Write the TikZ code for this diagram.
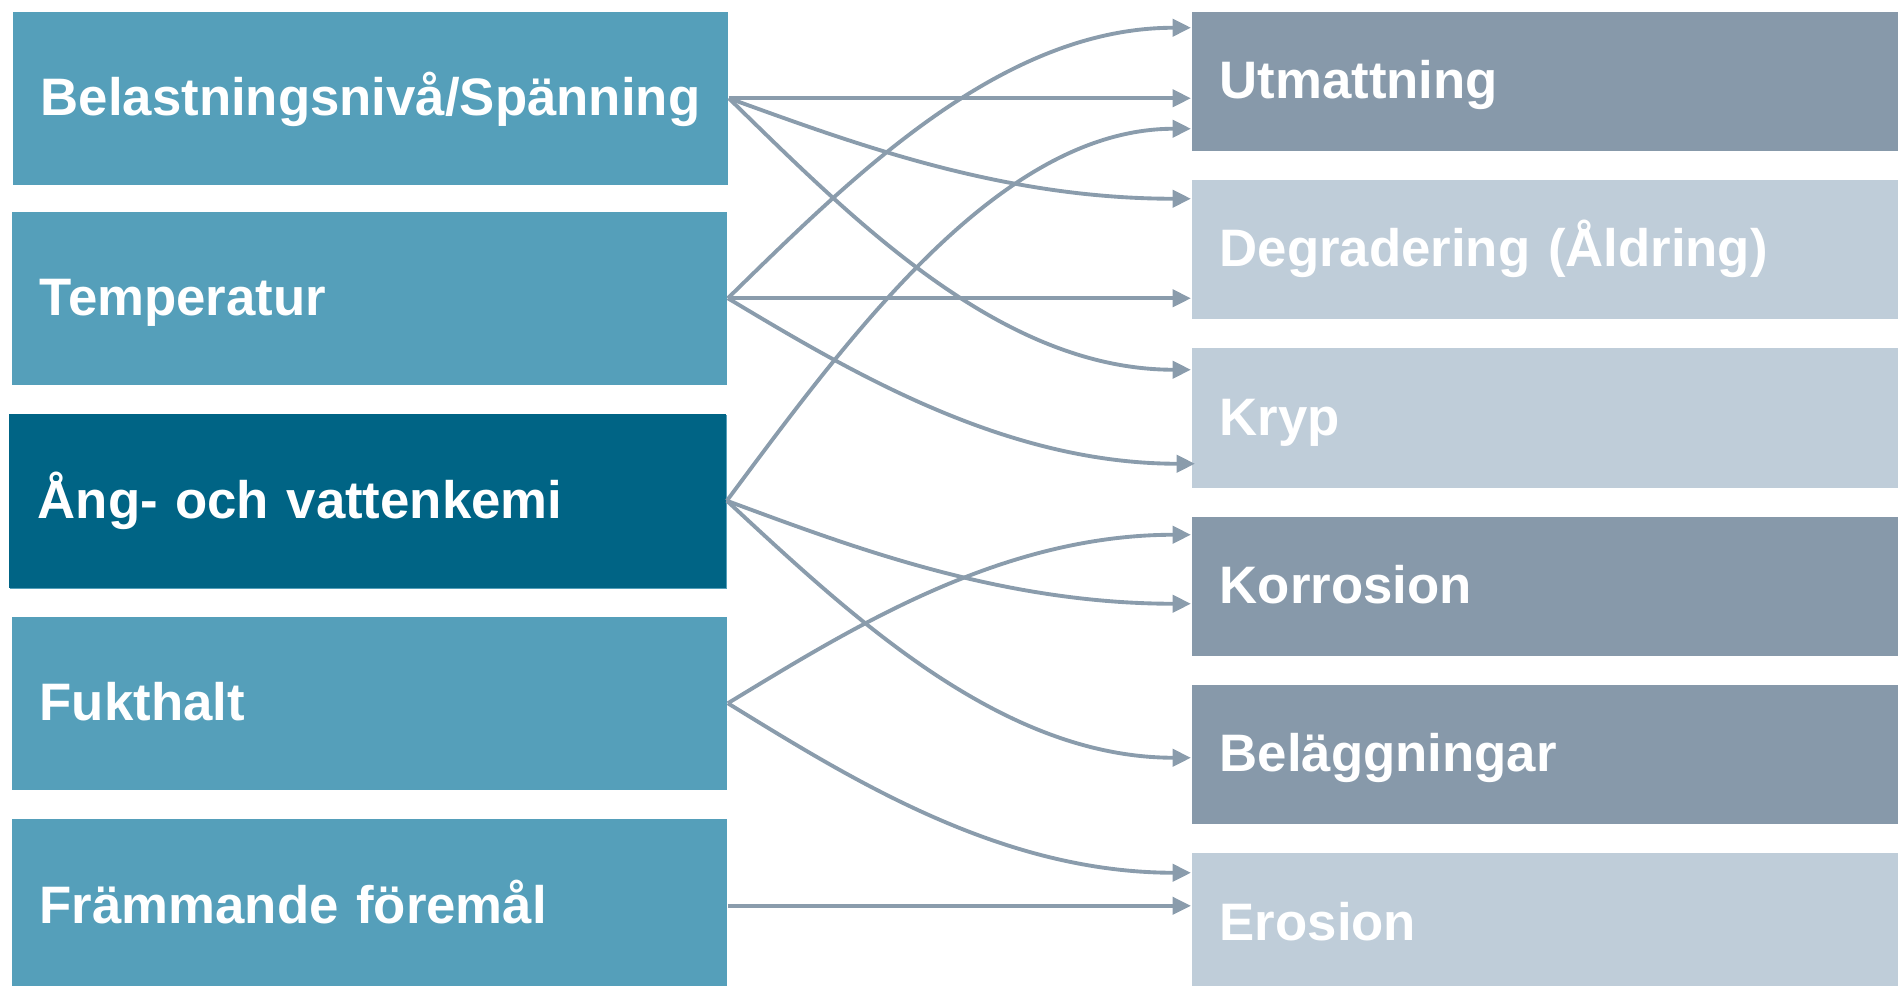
\documentclass[tikz,border=0pt]{standalone}
\usepackage{fontspec}
\setmainfont{Liberation Sans}
\usetikzlibrary{arrows.meta,calc}
\definecolor{leftc}{HTML}{559FBA}
\definecolor{darkc}{HTML}{006485}
\definecolor{rdark}{HTML}{8799AA}
\definecolor{rlight}{HTML}{BFCDD9}
\definecolor{arrowc}{HTML}{8A9CAC}
\tikzset{
  box/.style={rectangle, anchor=north west, inner xsep=0.28cm, inner ysep=0pt,
    text=white, font=\fontsize{15}{18}\selectfont\bfseries, align=left,
    text height=10pt, text depth=0pt},
  lbox/.style={box, fill=leftc, minimum width=7.15cm, text width=6.59cm},
  rbox/.style={box, minimum width=7.07cm, text width=6.51cm, minimum height=1.39cm},
  conn/.style={draw=arrowc, line width=1.1pt, -{Triangle[length=5.2pt,width=4.8pt]}}
}
\begin{document}
\begin{tikzpicture}[x=0.01cm,y=-0.01cm]
\useasboundingbox (0,0) rectangle (1898,985);
% left boxes
\node[lbox, minimum height=1.73cm] (L1) at (12,11) {Belastningsnivå/Spänning};
\node[lbox, minimum height=1.73cm] (L2) at (11,211) {Temperatur};
\fill[leftc] (10,415) rectangle (727,589);
\node[lbox, fill=darkc, minimum width=7.17cm, minimum height=1.74cm] (L3) at (8,413) {Ång- och vattenkemi};
\node[lbox, minimum height=1.73cm] (L4) at (11,616) {Fukthalt};
\node[lbox, minimum height=1.74cm] (L5) at (11,818) {Främmande föremål};
% right boxes
\node[rbox, fill=rdark] (R1) at (1191,11) {Utmattning};
\node[rbox, fill=rlight] (R2) at (1191,179) {Degradering (Åldring)};
\node[rbox, fill=rlight, minimum height=1.40cm] (R3) at (1191,347) {Kryp};
\node[rbox, fill=rdark] (R4) at (1191,516) {Korrosion};
\node[rbox, fill=rdark] (R5) at (1191,684) {Beläggningar};
\node[rbox, fill=rlight, minimum height=1.41cm] (R6) at (1191,852) {Erosion};
% target points
\coordinate (t1a) at ($(R1.west)+(0,-53.5)$);
\coordinate (t1c) at ($(R1.west)+(0,47.5)$);
\coordinate (t2a) at ($(R2.west)+(0,-50.5)$);
\coordinate (t3a) at ($(R3.west)+(0,-48)$);
\coordinate (t3b) at ($(R3.west)+(4,46)$);
\coordinate (t4a) at ($(R4.west)+(0,-51.5)$);
\coordinate (t4b) at ($(R4.west)+(0,17.5)$);
\coordinate (t5a) at ($(R5.west)+(0,3.5)$);
\coordinate (t6a) at ($(R6.west)+(0,-50.5)$);
% connectors
\draw[conn] (L1.east) -- (L1.east -| R1.west);
\draw[conn] (L1.east) .. controls +(122,44) and +(-191,0) .. (t2a);
\draw[conn] (L1.east) .. controls +(122,119) and +(-191,0) .. (t3a);
\draw[conn] (L2.east) .. controls +(122,-119) and +(-191,0) .. (t1a);
\draw[conn] (L2.east) -- (L2.east -| R2.west);
\draw[conn] (L2.east) .. controls +(122,73) and +(-191,0) .. (t3b);
\draw[conn] (L3.east) .. controls +(122,-164) and +(-191,0) .. (t1c);
\draw[conn] (L3.east) .. controls +(122,45) and +(-191,0) .. (t4b);
\draw[conn] (L3.east) .. controls +(122,113) and +(-191,0) .. (t5a);
\draw[conn] (L4.east) .. controls +(122,-74) and +(-191,0) .. (t4a);
\draw[conn] (L4.east) .. controls +(122,75) and +(-191,0) .. (t6a);
\draw[conn] (L5.east) -- (L5.east -| R6.west);
\end{tikzpicture}
\end{document}
